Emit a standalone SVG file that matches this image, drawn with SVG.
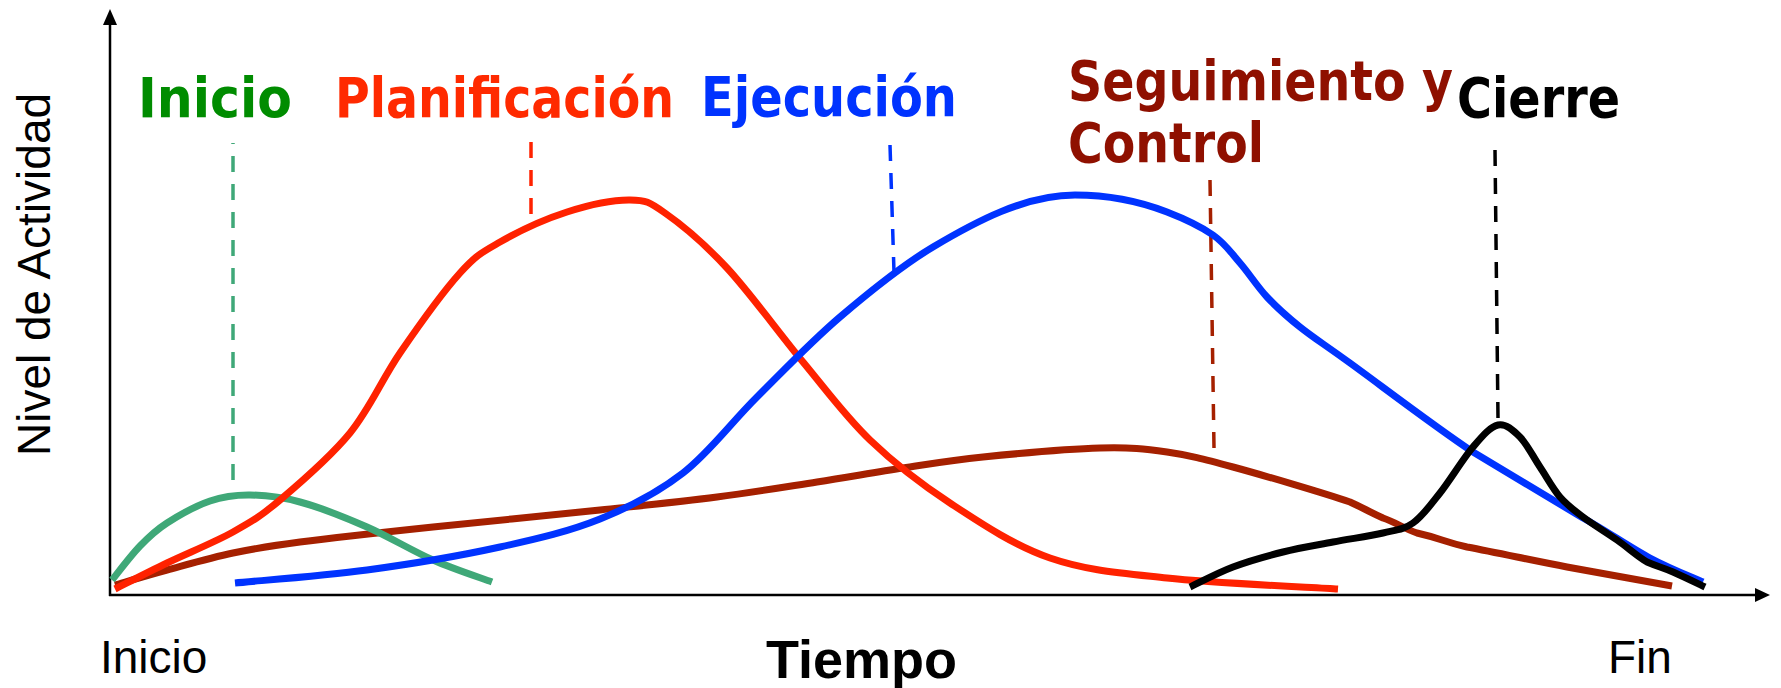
<svg xmlns="http://www.w3.org/2000/svg" width="1781" height="688" viewBox="0 0 1781 688">
<style>
.curve{fill:none;stroke-width:7;stroke-linecap:butt;stroke-linejoin:round}
.dash{fill:none;stroke-width:3.5;stroke-dasharray:16 12}
.lbl{font-family:"DejaVu Sans Condensed","DejaVu Sans",Verdana,sans-serif;font-weight:bold;font-size:55px}
.ax{font-family:"Liberation Sans",Arial,sans-serif;font-size:46px;fill:#000}
</style>
<rect width="1781" height="688" fill="#fff"/>
<g id="ejes">
<line x1="110" y1="596" x2="110" y2="22" stroke="#000" stroke-width="2.5"/>
<polygon points="110,9 103,25 117,25" fill="#000"/>
<line x1="109" y1="595" x2="1758" y2="595" stroke="#000" stroke-width="2.5"/>
<polygon points="1770,595 1755,588 1755,602" fill="#000"/>
<text class="ax" transform="translate(50,456) rotate(-90)">Nivel de Actividad</text>
<text class="ax" x="100" y="673">Inicio</text>
<text class="ax" x="1608" y="673">Fin</text>
<text x="766" y="678" style="font-family:'Liberation Sans',Arial,sans-serif;font-weight:bold;font-size:54px">Tiempo</text>
</g>
<g id="fase-seguimiento">
<line class="dash" x1="1210" y1="180" x2="1214" y2="448" stroke="#a52000"/>
<path class="curve" stroke="#a52000" d="M115,585 C123.7,582.5 147.3,575.3 167,570 C186.7,564.7 210.8,557.7 233,553 C255.2,548.3 266.7,546.3 300,542 C333.3,537.7 383,532.3 433,527 C483,521.7 552.7,515 600,510 C647.3,505 680.8,501.7 717,497 C753.2,492.3 786,486.8 817,482 C848,477.2 875.3,472.2 903,468 C930.7,463.8 950.2,460.3 983,457 C1015.8,453.7 1069.3,448.8 1100,448 C1130.7,447.2 1144.8,448.8 1167,452 C1189.2,455.2 1202.5,458.7 1233,467 C1263.5,475.3 1325,493.5 1350,502 C1361.2,507.2 1371.8,512.8 1383,518 C1397,522.8 1403,528.2 1417,533 C1442,538.7 1442,541.3 1467,547 C1501.2,553.5 1532.8,560.5 1567,567 C1584.5,570.2 1654.5,582.8 1672,586"/>
<text class="lbl" fill="#8f1000" x="1068" y="100" textLength="385" lengthAdjust="spacingAndGlyphs">Seguimiento y</text>
<text class="lbl" fill="#8f1000" x="1068" y="162" textLength="196" lengthAdjust="spacingAndGlyphs">Control</text>
</g>
<g id="fase-inicio">
<line class="dash" x1="233" y1="480" x2="233" y2="143" stroke="#3fa878"/>
<path class="curve" stroke="#3fa878" d="M112,580 C116.7,574.3 130.8,555.5 140,546 C149.2,536.5 155.3,530.5 167,523 C178.7,515.5 196.2,505.7 210,501 C223.8,496.3 235,494.8 250,495 C265,495.2 280.5,496.7 300,502 C319.5,507.3 344.8,517.3 367,527 C389.2,536.7 412.2,550.8 433,560 C453.8,569.2 482.2,578.3 492,582"/>
<text class="lbl" fill="#008c00" x="138" y="117" textLength="154" lengthAdjust="spacingAndGlyphs">Inicio</text>
</g>
<g id="fase-planificacion">
<line class="dash" x1="531" y1="142" x2="531" y2="214" stroke="#ff2200"/>
<path class="curve" stroke="#ff2200" d="M115,589 C123.7,584.7 147.3,572.5 167,563 C186.7,553.5 214.2,542.5 233,532 C251.8,521.5 260.5,516.5 280,500 C299.5,483.5 330,457.5 350,433 C370,408.5 381.7,379.7 400,353 C418.3,326.3 443.3,291.5 460,273 C476.7,254.5 482.2,252.2 500,242 C517.8,231.8 545.3,219 567,212 C588.7,205 613.7,199.8 630,200 C646.3,200.2 648.8,201.7 665,213 C681.2,224.3 704,243.2 727,268 C750,292.8 779.2,333.3 803,362 C826.8,390.7 845.5,416.5 870,440 C894.5,463.5 920,483.3 950,503 C980,522.7 1013.8,545.5 1050,558 C1086.2,570.5 1119,572.8 1167,578 C1215,583.2 1309.5,587.2 1338,589"/>
<text class="lbl" fill="#ff2a00" x="335" y="117" textLength="339" lengthAdjust="spacingAndGlyphs">Planificación</text>
</g>
<g id="fase-ejecucion">
<line class="dash" x1="890" y1="145" x2="894" y2="272" stroke="#0033ff"/>
<path class="curve" stroke="#0033ff" d="M235,583 C257,580.8 322.8,576 367,570 C411.2,564 461.2,555.5 500,547 C538.8,538.5 569.5,531.3 600,519 C630.5,506.7 656.8,493.3 683,473 C709.2,452.7 730.8,423 757,397 C783.2,371 810.7,342 840,317 C869.3,292 900.8,266.2 933,247 C975,222 1025,195 1075,195 C1120,195 1150,205.4 1167,212 C1183,218.2 1200.8,226.5 1213,235 C1225.2,243.5 1231,252.7 1240,263 C1249,273.3 1257,286.3 1267,297 C1277,307.7 1286.2,316 1300,327 C1313.8,338 1321.2,342.2 1350,363 C1378.8,383.8 1434.2,426.2 1473,452 C1502.5,469.7 1553.5,500.3 1583,518 C1603,528.7 1630,547.3 1650,558 C1670,568.7 1694.2,578 1703,582"/>
<text class="lbl" fill="#0033ff" x="701" y="116" textLength="256" lengthAdjust="spacingAndGlyphs">Ejecución</text>
</g>
<g id="fase-cierre">
<line class="dash" x1="1495" y1="150" x2="1498" y2="418" stroke="#000"/>
<path class="curve" stroke="#000" d="M1190,587 C1197.2,583.7 1217.5,572.8 1233,567 C1248.5,561.2 1266.3,556.2 1283,552 C1299.7,547.8 1316.3,545.2 1333,542 C1349.7,538.8 1369.7,536.2 1383,533 C1396.3,529.8 1403.5,529.7 1413,523 C1422.5,516.3 1430,505.7 1440,493 C1450,480.3 1463.3,458.3 1473,447 C1482.7,435.7 1490.2,426.7 1498,425 C1505.8,423.3 1513,430 1520,437 C1527,444 1533.3,457 1540,467 C1546.7,477 1552.8,488.7 1560,497 C1567.2,505.3 1573.5,509.8 1583,517 C1592.5,524.2 1606.3,532.5 1617,540 C1627.7,547.5 1637.7,556.7 1647,562 C1656.7,566.2 1663.3,567.8 1673,572 C1682.7,576.2 1699.7,584.5 1705,587"/>
<text class="lbl" fill="#000" x="1457" y="117" textLength="163" lengthAdjust="spacingAndGlyphs">Cierre</text>
</g>
</svg>
